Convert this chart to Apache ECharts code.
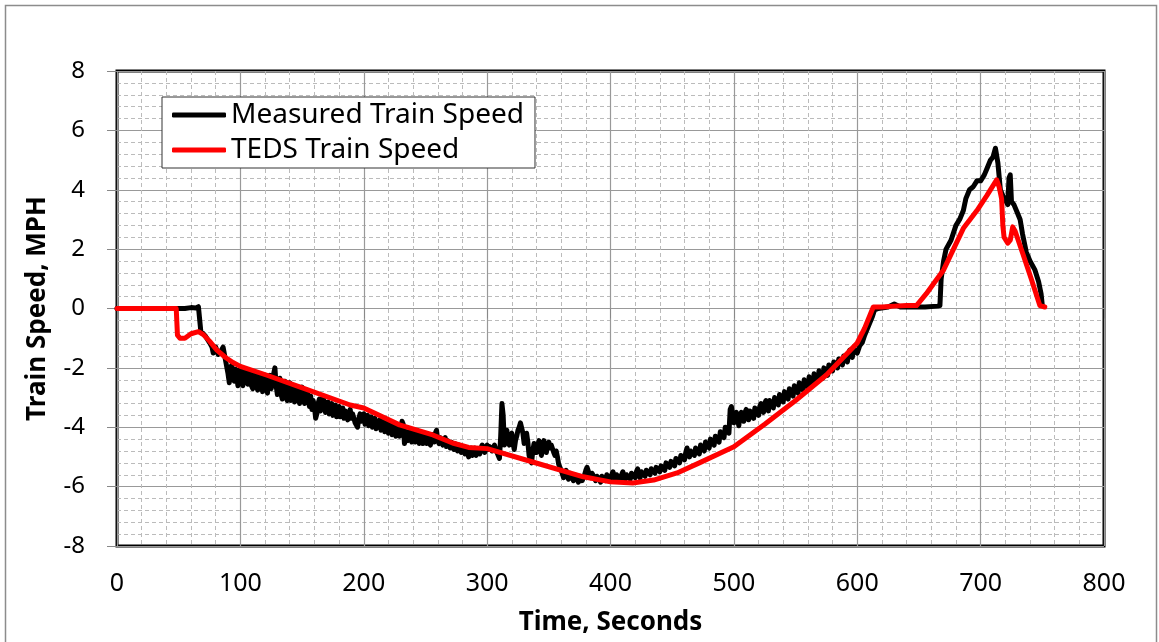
<!DOCTYPE html>
<html>
<head>
<meta charset="utf-8">
<script src="https://cdn.jsdelivr.net/npm/echarts@6/dist/echarts.min.js"></script>
<style>
html,body{margin:0;padding:0;background:#fff;}
#c{width:1159px;height:642px;}
</style>
</head>
<body>
<div id="c"></div>
<script>
const xTicks = [0,100,200,300,400,500,600,700,800];
const yTicks = [-8,-6,-4,-2,0,2,4,6,8];
const seriesNames = ['Measured Train Speed','TEDS Train Speed'];

// Measured train speed [time s, mph]
const measured = [
[0,0],[30,0],[55,0],[60,0.03],[64,0.02],[66,0.06],[67,0.0],[68,-0.8],
[70,-0.85],[72,-0.95],[75,-1.15],[77,-1.3],[78,-1.5],[80,-1.3],[82,-1.55],[84,-1.45],[86,-1.3],[88,-1.75],
[90,-2.2],[91,-2.5],[92,-2.0],[93,-1.9],[95,-2.45],[96,-2.05],[97,-2.3],[98,-2.6],[99,-2.1],[100,-2.0],
[101,-2.35],[102,-2.6],[103,-2.2],[104,-2.05],[106,-2.55],[107,-2.25],[108,-2.1],[109,-2.6],[110,-2.7],
[111,-2.3],[112,-2.15],[113,-2.5],[114,-2.75],[115,-2.35],[116,-2.2],[118,-2.8],[119,-2.5],[120,-2.3],
[121,-2.65],[122,-2.85],[123,-2.4],[124,-2.25],[125,-2.7],[126,-2.45],[127,-2.2],[128,-2.0],[129,-2.6],
[130,-2.9],[131,-2.5],[132,-2.35],[133,-2.9],[134,-3.05],[135,-2.6],[136,-2.45],[137,-2.95],[138,-3.1],
[139,-2.7],[140,-2.5],[141,-3.1],[142,-2.8],[143,-2.6],[144,-3.15],[145,-2.85],[146,-2.7],[147,-3.0],
[148,-3.2],[149,-2.8],[150,-2.65],[151,-3.0],[152,-3.2],[153,-2.85],[154,-2.75],[155,-3.05],[156,-3.3],
[157,-2.95],[158,-3.4],[159,-3.1],[160,-3.3],[161,-3.7],[162,-3.55],[163,-3.2],[164,-3.05],[165,-3.45],
[166,-3.2],[167,-3.0],[168,-3.15],[169,-3.5],[170,-3.3],[171,-3.15],[172,-3.55],[173,-3.3],[174,-3.2],
[175,-3.6],[176,-3.35],[177,-3.25],[178,-3.65],[179,-3.45],[180,-3.3],[181,-3.65],[182,-3.5],[183,-3.35],
[184,-3.7],[185,-3.45],[186,-3.4],[187,-3.75],[188,-3.5],[189,-3.4],[190,-3.7],[191,-3.55],[192,-3.5],
[193,-3.85],[194,-3.9],[195,-4.0],[196,-3.7],[197,-3.55],[198,-3.8],[199,-3.65],[200,-3.55],[201,-3.9],
[202,-3.7],[203,-3.6],[204,-3.95],[205,-3.75],[206,-3.65],[207,-4.0],[208,-3.8],[209,-3.7],[210,-4.05],
[211,-4.1],[212,-3.85],[213,-3.75],[214,-4.1],[215,-3.9],[216,-3.8],[217,-4.15],[218,-3.95],[219,-3.85],
[220,-4.2],[221,-4.0],[222,-3.9],[223,-4.25],[224,-4.05],[225,-3.95],[226,-4.3],[227,-4.1],[228,-4.0],
[229,-4.3],[230,-4.1],[231,-3.8],[232,-3.9],[233,-4.55],[234,-4.25],[235,-4.15],[236,-4.45],[237,-4.25],
[238,-4.15],[239,-4.5],[240,-4.3],[241,-4.2],[242,-4.5],[243,-4.3],[244,-4.2],[245,-4.55],[246,-4.35],
[247,-4.25],[248,-4.55],[249,-4.4],[250,-4.3],[251,-4.55],[252,-4.35],[253,-4.3],[254,-4.6],[255,-4.35],
[256,-4.25],[257,-4.5],[258,-4.2],[259,-4.1],[260,-4.45],[261,-4.55],[262,-4.35],[263,-4.3],[264,-4.6],
[265,-4.45],[266,-4.35],[267,-4.65],[268,-4.45],[269,-4.4],[270,-4.7],[271,-4.5],[272,-4.45],[273,-4.75],
[274,-4.55],[275,-4.5],[276,-4.8],[277,-4.6],[278,-4.55],[279,-4.85],[280,-4.65],[281,-4.6],[282,-4.9],
[283,-4.7],[284,-4.75],[285,-5.0],[286,-4.8],[287,-4.7],[288,-4.95],[289,-4.8],[290,-4.7],[291,-4.95],
[292,-4.75],[293,-4.7],[294,-4.9],[295,-4.7],[296,-4.6],[297,-4.65],[298,-4.85],[299,-4.7],[300,-4.6],
[301,-4.75],[302,-4.65],[303,-4.6],[304,-4.8],[305,-4.7],[306,-4.6],[307,-4.75],[308,-4.85],[309,-4.95],
[310,-5.05],[311,-4.3],[312,-3.2],[313,-3.6],[314,-4.6],[315,-4.4],[316,-4.1],[317,-4.5],[318,-4.6],
[319,-4.3],[320,-4.2],[321,-4.55],[322,-4.75],[323,-4.45],[324,-4.3],[325,-4.1],[326,-4.0],[327,-3.85],
[328,-3.8],[329,-4.2],[330,-4.55],[331,-4.35],[332,-4.2],[333,-4.5],[334,-4.95],[335,-5.1],[336,-5.2],
[337,-4.8],[338,-4.55],[339,-4.7],[340,-4.85],[341,-4.6],[342,-4.45],[343,-4.7],[344,-4.95],[345,-4.65],
[346,-4.45],[347,-4.6],[348,-4.85],[349,-4.6],[350,-4.5],[351,-4.7],[352,-4.6],[353,-4.55],[354,-4.85],
[355,-4.95],[356,-4.8],[357,-5.0],[358,-5.25],[359,-5.3],[360,-5.45],[361,-5.5],[362,-5.7],[363,-5.55],
[364,-5.45],[365,-5.65],[366,-5.75],[367,-5.55],[368,-5.5],[369,-5.7],[370,-5.8],[371,-5.6],[372,-5.55],
[373,-5.75],[374,-5.85],[375,-5.65],[376,-5.6],[377,-5.8],[378,-5.85],[379,-5.6],[380,-5.45],[381,-5.35],
[382,-5.4],[383,-5.6],[384,-5.7],[385,-5.55],[386,-5.5],[387,-5.7],[388,-5.8],[389,-5.65],[390,-5.6],
[391,-5.75],[392,-5.85],[393,-5.65],[394,-5.6],[396,-5.8],[397,-5.6],[398,-5.55],[400,-5.75],[401,-5.6],
[402,-5.5],[404,-5.75],[405,-5.6],[406,-5.55],[408,-5.8],[409,-5.6],[410,-5.5],[412,-5.75],[413,-5.6],
[414,-5.55],[416,-5.75],[417,-5.55],[418,-5.5],[420,-5.7],[421,-5.5],[422,-5.4],[424,-5.7],[425,-5.5],
[426,-5.45],[428,-5.65],[429,-5.45],[430,-5.4],[432,-5.6],[433,-5.4],[434,-5.35],[436,-5.55],[437,-5.35],
[438,-5.3],[440,-5.5],[441,-5.3],[442,-5.25],[444,-5.45],[445,-5.2],[446,-5.15],[448,-5.35],[449,-5.15],
[450,-5.1],[452,-5.3],[453,-5.05],[454,-5.0],[456,-5.2],[457,-4.95],[458,-4.9],[460,-5.1],[461,-4.85],
[462,-4.7],[464,-5.0],[465,-4.8],[466,-4.75],[468,-4.95],[469,-4.7],[470,-4.65],[472,-4.9],[473,-4.6],
[474,-4.55],[476,-4.8],[477,-4.5],[478,-4.45],[480,-4.7],[481,-4.4],[482,-4.35],[484,-4.6],[485,-4.3],
[486,-4.25],[488,-4.5],[489,-4.15],[490,-4.1],[492,-4.35],[493,-4.0],[494,-3.95],[496,-4.2],[497,-3.4],
[498,-3.3],[499,-3.6],[500,-3.85],[501,-3.6],[502,-3.5],[504,-3.95],[505,-3.6],[506,-3.5],[508,-3.8],
[509,-3.5],[510,-3.4],[512,-3.75],[513,-3.45],[514,-3.4],[516,-3.7],[517,-3.35],[518,-3.3],[520,-3.6],
[521,-3.3],[522,-3.2],[524,-3.5],[525,-3.2],[526,-3.1],[528,-3.45],[529,-3.1],[530,-3.05],[532,-3.35],
[533,-3.0],[534,-2.95],[536,-3.25],[537,-2.9],[538,-2.85],[540,-3.15],[541,-2.8],[542,-2.75],[544,-3.05],
[545,-2.7],[546,-2.65],[548,-2.95],[549,-2.6],[550,-2.55],[552,-2.85],[553,-2.5],[554,-2.45],[556,-2.75],
[557,-2.4],[558,-2.35],[560,-2.65],[561,-2.3],[562,-2.25],[564,-2.55],[565,-2.2],[566,-2.15],[568,-2.45],
[569,-2.1],[570,-2.05],[572,-2.35],[573,-2.0],[574,-1.95],[576,-2.25],[577,-1.9],[578,-1.85],[580,-2.1],
[581,-1.8],[582,-1.75],[584,-2.0],[585,-1.7],[586,-1.65],[588,-1.9],[589,-1.6],[590,-1.55],[592,-1.8],
[593,-1.5],[594,-1.4],[596,-1.65],[597,-1.35],[598,-1.3],[600,-1.5],[602,-1.25],
[604,-1.15],[606,-0.9],[609,-0.6],[612,-0.3],[614,-0.05],[617,0],[625,0.05],[630,0.15],[635,0.05],
[645,0.05],[655,0.05],[665,0.08],[667,0.1],[668,1.0],[670,1.6],[672,2.0],[676,2.3],[680,2.8],[683,3.0],
[686,3.3],[688,3.7],[691,4.0],[694,4.1],[697,4.3],[700,4.3],[703,4.5],[705,4.7],[708,5.0],[710,5.1],
[712,5.4],[714,4.9],[716,4.0],[718,3.8],[720,3.65],[722,3.5],[723,4.4],[724,4.5],[725,3.6],[727,3.5],
[730,3.2],[732,3.0],[734,2.5],[737,1.9],[740,1.6],[744,1.3],[747,0.9],[749,0.5],[750,0.1]
];

// TEDS train speed [time s, mph]
const teds = [
[0,0],[48,0],[49,-0.9],[51,-1.0],[55,-1.0],[60,-0.85],[66,-0.78],[70,-0.88],[75,-1.1],[81,-1.4],
[88,-1.65],[94,-1.82],[100,-1.95],[121,-2.24],[148,-2.64],[189,-3.25],[200,-3.35],[229,-3.92],
[256,-4.26],[272,-4.53],[285,-4.68],[300,-4.72],[337,-5.17],[378,-5.67],[400,-5.84],[418,-5.88],
[435,-5.78],[454,-5.54],[472,-5.2],[500,-4.66],[525,-3.9],[550,-3.1],[575,-2.24],[600,-1.16],
[606,-0.66],[613,0.05],[620,0.05],[630,0.08],[640,0.1],[648,0.1],[652,0.3],[656,0.5],[663,0.9],
[670,1.3],[678,2.0],[686,2.7],[697,3.3],[705,3.8],[713,4.33],[715,4.1],[717,3.7],[718,2.8],[719,2.4],
[722,2.2],[724,2.3],[726,2.75],[728,2.6],[734,1.87],[741,1.0],[748,0.1],[752,0.05]
];

const chart = echarts.init(document.getElementById('c'), null, {renderer:'canvas'});
const FONT = 'Noto Sans';
chart.setOption({
  backgroundColor:'#fff',
  animation:false,
  graphic:[{type:'rect', shape:{x:5.5,y:5.5,width:1151,height:700}, style:{fill:'none',stroke:'#8c8c8c',lineWidth:1.5}, z:-10}],
  grid:{left:117,right:55,top:71,bottom:96,show:true,borderColor:'#000',borderWidth:3,backgroundColor:'#fff'},
  legend:{
    orient:'vertical', left:162, top:97, padding:[3,11,3,10],
    backgroundColor:'#fff', borderColor:'#333', borderWidth:1,
    itemWidth:54, itemHeight:5, itemGap:5,
    icon:'roundRect',
    textStyle:{fontFamily:FONT,fontSize:28,color:'#000',lineHeight:30},
    data:seriesNames
  },
  xAxis:{
    type:'value', min:xTicks[0], max:xTicks[xTicks.length-1], interval:100,
    name:'Time, Seconds', nameLocation:'middle', nameGap:64,
    nameTextStyle:{fontFamily:FONT,fontSize:26,fontWeight:'bold',color:'#000'},
    axisLine:{show:false},
    axisTick:{show:true,length:10,lineStyle:{color:'#888'}},
    axisLabel:{fontFamily:FONT,fontSize:25,color:'#000',margin:25},
    splitLine:{show:true,lineStyle:{color:'#999',width:1.2}},
    minorTick:{show:false,splitNumber:5},
    minorSplitLine:{show:true,lineStyle:{color:'#bbb',type:[4,3],width:1}}
  },
  yAxis:{
    type:'value', min:yTicks[0], max:yTicks[yTicks.length-1], interval:2,
    name:'Train Speed, MPH', nameLocation:'middle', nameGap:66, nameRotate:90,
    nameTextStyle:{fontFamily:FONT,fontSize:26,fontWeight:'bold',color:'#000'},
    axisLine:{show:false},
    axisTick:{show:true,length:10,lineStyle:{color:'#888'}},
    axisLabel:{fontFamily:FONT,fontSize:24,color:'#000',margin:32},
    splitLine:{show:true,lineStyle:{color:'#999',width:1.2}},
    minorTick:{show:false,splitNumber:5},
    minorSplitLine:{show:true,lineStyle:{color:'#bbb',type:[4,3],width:1}}
  },
  series:[
    {name:seriesNames[0], type:'line', data:measured, showSymbol:false, color:'#000',
     lineStyle:{color:'#000',width:5,join:'round',cap:'round'}, z:3},
    {name:seriesNames[1], type:'line', data:teds, showSymbol:false, color:'#ff0000',
     lineStyle:{color:'#ff0000',width:5,join:'round',cap:'round'}, z:4}
  ]
});
</script>
</body>
</html>
